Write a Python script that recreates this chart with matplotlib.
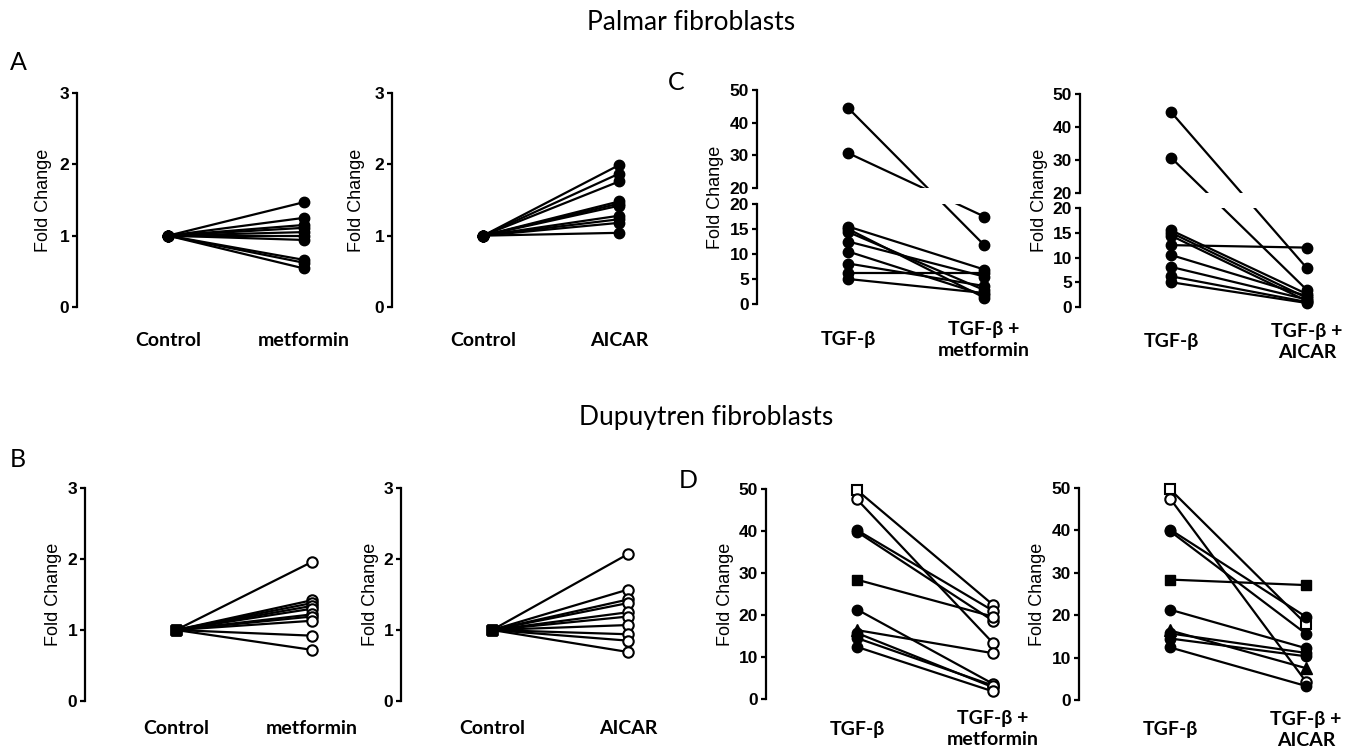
import numpy as np
import matplotlib
matplotlib.use('Agg')
import matplotlib.pyplot as plt
from matplotlib.patches import Rectangle
from matplotlib.ticker import NullLocator

# ---------------- data ----------------
cats_met = ["Control", "metformin"]
cats_aicar = ["Control", "AICAR"]
cats_tgf_met = ["TGF-β", "TGF-β +\nmetformin"]
cats_tgf_aicar = ["TGF-β", "TGF-β +\nAICAR"]

# Palmar fibroblasts, panel A
palmar_control = [1.0, 1.0, 1.0, 1.0, 1.0, 1.0, 1.0, 1.0, 1.0, 1.0]
palmar_metformin = [1.47, 1.25, 1.15, 1.11, 1.05, 1.00, 0.94, 0.66, 0.62, 0.54]
palmar_aicar = [1.99, 1.87, 1.76, 1.48, 1.45, 1.42, 1.28, 1.23, 1.18, 1.04]

# Dupuytren fibroblasts, panel B
dup_control = [1.0, 1.0, 1.0, 1.0, 1.0, 1.0, 1.0, 1.0, 1.0, 1.0]
dup_metformin = [1.96, 1.42, 1.38, 1.34, 1.30, 1.22, 1.19, 1.13, 0.92, 0.72]
dup_aicar = [2.07, 1.57, 1.43, 1.38, 1.25, 1.19, 1.07, 0.94, 0.85, 0.69]

# Palmar fibroblasts, panel C
palmar_tgf = [44.5, 30.7, 15.5, 15.0, 14.4, 12.5, 10.5, 8.1, 6.2, 5.0]
palmar_tgf_met = [11.8, 17.5, 6.9, 1.3, 2.8, 5.5, 1.8, 3.6, 6.2, 2.2]
palmar_tgf_aicar = [7.8, 3.4, 2.6, 1.8, 1.2, 12.0, 2.2, 1.5, 1.0, 0.8]

# Dupuytren fibroblasts, panel D
dup_tgf = [49.7, 47.5, 40.2, 39.8, 28.4, 21.3, 16.4, 15.7, 14.5, 12.4]
dup_tgf_met = [22.4, 13.3, 21.0, 18.6, 19.6, 3.6, 10.9, 2.8, 3.2, 1.8]
dup_tgf_aicar = [17.9, 4.3, 19.6, 15.6, 27.1, 12.2, 7.5, 11.1, 10.3, 3.3]
dup_markers = ['os', 'oc', 'fc', 'fc', 'fs', 'fc', 'ft', 'fc', 'fc', 'fc']

# ---------------- style / layout ----------------
W, H = 1368, 750
fig = plt.figure(figsize=(W / 100, H / 100), dpi=100)

UNIT = 136.0
XL = (-0.67, 1.45)
AXW = (XL[1] - XL[0]) * UNIT
LW = 1.6
TICKFONT = dict(family='Liberation Sans', weight='bold', size=12.5)
CATFONT = ['Lato', 'DejaVu Serif']
LABFONT = 'Liberation Sans'

MK = {
    'fc': dict(marker='o', ms=7.5, mfc='black', mec='black'),
    'oc': dict(marker='o', ms=7.5, mfc='white', mec='black', mew=1.5),
    'fs': dict(marker='s', ms=7, mfc='black', mec='black'),
    'os': dict(marker='s', ms=7.5, mfc='white', mec='black', mew=1.5),
    'ft': dict(marker='^', ms=8, mfc='black', mec='black'),
}


def px(x, y):
    return x / W, 1 - y / H


def add_ax(sx, yt, yb):
    ax = fig.add_axes([sx / W, 1 - yb / H, AXW / W, (yb - yt) / H])
    ax.patch.set_visible(False)
    ax.set_xlim(*XL)
    return ax


def style_yaxis(ax, ticks):
    for s in ['top', 'right', 'bottom']:
        ax.spines[s].set_visible(False)
    ax.spines['left'].set_linewidth(LW)
    ax.set_yticks(ticks)
    ax.set_yticklabels([str(t) for t in ticks], fontdict=TICKFONT)
    ax.tick_params(axis='y', direction='out', length=3.6, width=LW, pad=2)


def set_cats(ax, cats, pad_px):
    ax.set_xticks([0, 1])
    ax.set_xticklabels(cats, family=CATFONT, weight='bold', fontsize=14,
                       va='center', linespacing=1.3)
    ax.tick_params(axis='x', length=0, pad=pad_px * 0.72)


def draw_pairs(ax, left, right, lmk, rmk):
    for l, r in zip(left, right):
        ax.plot([0, 1], [l, r], color='black', lw=LW, zorder=2)
    for i, (l, r) in enumerate(zip(left, right)):
        ax.plot([0], [l], ls='none', zorder=3, clip_on=False, **MK[lmk[i]])
        ax.plot([1], [r], ls='none', zorder=3, clip_on=False, **MK[rmk[i]])


def ylabel(x, yc):
    fig.text(*px(x, yc), 'Fold Change', rotation=90, ha='center', va='center',
             family=LABFONT, fontsize=13)


def simple_panel(sx, yt, yb, ymax, ticks, cats, left, right, lmk, rmk, pad_px, ylab_x):
    ax = add_ax(sx, yt, yb)
    ax.set_ylim(0, ymax)
    style_yaxis(ax, ticks)
    set_cats(ax, cats, pad_px)
    draw_pairs(ax, left, right, lmk, rmk)
    ylabel(ylab_x, (yt + yb) / 2)
    return ax


def broken_panel(sx, y50, y20t, y20b, y0, cats, left, right, pad_px, ylab_x):
    sb = (y0 - y20b) / 20.0
    st = (y20t - y50) / 30.0
    g = (y20b - y20t)

    def fwd(y):
        y = np.asarray(y, float)
        return np.where(y <= 20, y, 20 + g / sb + (y - 20) * st / sb)

    def inv(f):
        f = np.asarray(f, float)
        return np.where(f <= 20, f, 20 + (f - 20 - g / sb) * sb / st)

    ax = add_ax(sx, y50, y0)
    ax.set_yscale('function', functions=(fwd, inv))
    ax.set_ylim(0, 50)
    for s in ax.spines.values():
        s.set_visible(False)
    ax.set_yticks([])
    ax.yaxis.set_minor_locator(NullLocator())
    set_cats(ax, cats, pad_px)
    n = len(left)
    draw_pairs(ax, left, right, ['fc'] * n, ['fc'] * n)
    ax.add_patch(Rectangle((0, (y0 - y20b) / (y0 - y50)), 1, (y20b - y20t) / (y0 - y50),
                           transform=ax.transAxes, facecolor='white', edgecolor='none',
                           zorder=5))
    top = add_ax(sx, y50, y20t)
    top.set_ylim(20, 50)
    style_yaxis(top, [20, 30, 40, 50])
    top.set_xticks([])
    bot = add_ax(sx, y20b, y0)
    bot.set_ylim(0, 20)
    style_yaxis(bot, [0, 5, 10, 15, 20])
    bot.set_xticks([])
    ylabel(ylab_x, (y50 + y0) / 2)


n = len(palmar_control)
# Panel A
simple_panel(77, 93, 307, 3, [0, 1, 2, 3], cats_met, palmar_control, palmar_metformin,
             ['fc'] * n, ['fc'] * n, 34, 44)
simple_panel(392, 93, 307, 3, [0, 1, 2, 3], cats_aicar, palmar_control, palmar_aicar,
             ['fc'] * n, ['fc'] * n, 34, 357)
# Panel B
simple_panel(85, 488, 701, 3, [0, 1, 2, 3], cats_met, dup_control, dup_metformin,
             ['fs'] * n, ['oc'] * n, 28, 53)
simple_panel(401, 488, 701, 3, [0, 1, 2, 3], cats_aicar, dup_control, dup_aicar,
             ['fs'] * n, ['oc'] * n, 28, 370)
# Panel C
broken_panel(757, 90, 188, 204, 304, cats_tgf_met, palmar_tgf, palmar_tgf_met, 36, 715)
broken_panel(1080, 94, 193, 208, 307, cats_tgf_aicar, palmar_tgf, palmar_tgf_aicar, 35, 1040)
# Panel D
simple_panel(766, 489, 699, 50, [0, 10, 20, 30, 40, 50], cats_tgf_met, dup_tgf, dup_tgf_met,
             dup_markers, ['oc'] * n, 30, 725)
simple_panel(1079, 488, 700, 50, [0, 10, 20, 30, 40, 50], cats_tgf_aicar, dup_tgf, dup_tgf_aicar,
             dup_markers, dup_markers, 30, 1038)

# Titles and panel letters
fig.text(*px(691, 22), 'Palmar fibroblasts', ha='center', va='center', family='Lato', fontsize=19)
fig.text(*px(706, 418), 'Dupuytren fibroblasts', ha='center', va='center', family='Lato', fontsize=19)
for letter, (x, y) in zip(['A', 'B', 'C', 'D'], [(18, 62), (18, 460), (676, 82), (688, 480)]):
    fig.text(*px(x, y), letter, ha='center', va='center', family='Lato', fontsize=18)

fig.savefig('out.png', dpi=100)
